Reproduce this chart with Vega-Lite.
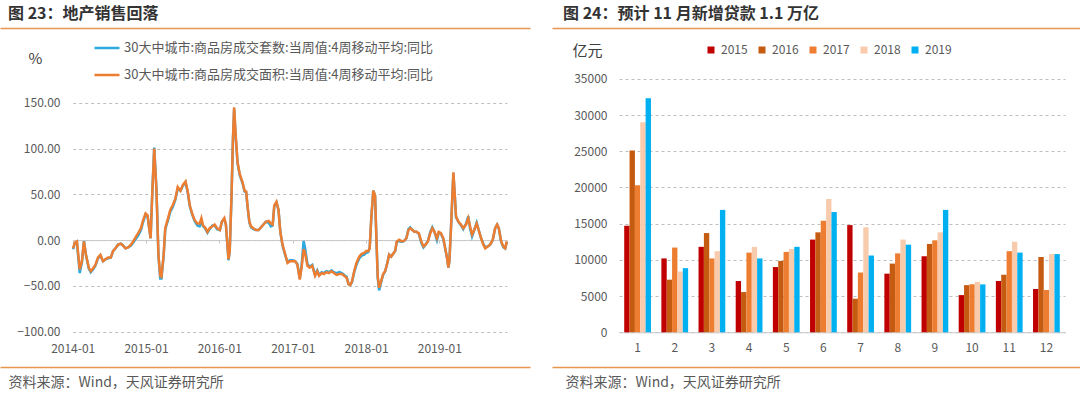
{
  "$schema": "https://vega.github.io/schema/vega-lite/v6.json",
  "padding": {"left": 0, "top": 6, "right": 0, "bottom": 0},
  "spacing": 22,
  "resolve": {"scale": {"color": "independent"}, "legend": {"color": "independent"}},
  "config": {
    "font": "Noto Sans CJK SC",
    "view": {"stroke": null},
    "axis": {"labelFont": "Noto Sans CJK SC", "titleFont": "Noto Sans CJK SC", "labelColor": "#595959", "labelFontSize": 12},
    "legend": {"labelFont": "Noto Sans CJK SC", "labelColor": "#595959"},
    "title": {"font": "Noto Sans CJK SC"}
  },
  "hconcat": [
    {
      "width": 530,
      "height": 339,
      "title": {"text": "图 23：地产销售回落", "anchor": "start", "dx": 8, "fontSize": 16, "fontWeight": "bold", "color": "#333333", "offset": 6},
      "data": {"values": [
        {"d":"2014-01-03","b":-9,"a":-10},{"d":"2014-01-11","b":-3,"a":-4},{"d":"2014-01-22","b":-1.5,"a":-2},
        {"d":"2014-02-05","b":-32,"a":-36},{"d":"2014-02-16","b":-23,"a":-24},{"d":"2014-02-26","b":-1.5,"a":-1},
        {"d":"2014-03-08","b":-16,"a":-16},{"d":"2014-03-22","b":-30,"a":-31},{"d":"2014-04-01","b":-34,"a":-35},
        {"d":"2014-04-12","b":-31,"a":-32},{"d":"2014-04-24","b":-27,"a":-28},{"d":"2014-05-07","b":-19,"a":-20},
        {"d":"2014-05-19","b":-16,"a":-17},{"d":"2014-06-01","b":-23,"a":-23},{"d":"2014-06-13","b":-21,"a":-21},
        {"d":"2014-06-26","b":-19,"a":-20},{"d":"2014-07-10","b":-19,"a":-19},{"d":"2014-07-21","b":-12,"a":-12},
        {"d":"2014-08-02","b":-9,"a":-9},{"d":"2014-08-15","b":-5,"a":-5},{"d":"2014-08-29","b":-4,"a":-4},
        {"d":"2014-09-09","b":-6,"a":-6},{"d":"2014-09-21","b":-9,"a":-9},{"d":"2014-10-04","b":-8,"a":-8},
        {"d":"2014-10-18","b":-5,"a":-6},{"d":"2014-10-29","b":-1.5,"a":-3},{"d":"2014-11-10","b":3,"a":1},
        {"d":"2014-11-23","b":7.5,"a":5},{"d":"2014-12-07","b":13,"a":11},{"d":"2014-12-18","b":22,"a":20},
        {"d":"2014-12-30","b":29,"a":28},{"d":"2015-01-09","b":27,"a":26},{"d":"2015-01-17","b":13,"a":13},
        {"d":"2015-01-24","b":2,"a":2},{"d":"2015-02-01","b":49,"a":50},{"d":"2015-02-11","b":100,"a":101},
        {"d":"2015-02-22","b":55,"a":56},{"d":"2015-03-04","b":-16,"a":-17},{"d":"2015-03-13","b":-39,"a":-42},
        {"d":"2015-03-19","b":-40,"a":-42},{"d":"2015-03-30","b":-16,"a":-17},{"d":"2015-04-07","b":13,"a":12},
        {"d":"2015-04-21","b":24,"a":22},{"d":"2015-05-02","b":33,"a":31},{"d":"2015-05-14","b":38,"a":36},
        {"d":"2015-05-27","b":45,"a":44},{"d":"2015-06-08","b":58,"a":56},{"d":"2015-06-22","b":54,"a":54},
        {"d":"2015-07-03","b":60,"a":59},{"d":"2015-07-17","b":64,"a":63},{"d":"2015-07-28","b":53,"a":52},
        {"d":"2015-08-07","b":38,"a":37},{"d":"2015-08-19","b":29,"a":28},{"d":"2015-08-31","b":22,"a":21},
        {"d":"2015-09-14","b":18,"a":16},{"d":"2015-09-25","b":18,"a":15},{"d":"2015-10-04","b":24,"a":21},
        {"d":"2015-10-12","b":16,"a":15},{"d":"2015-10-22","b":14,"a":13},{"d":"2015-11-03","b":9,"a":8},
        {"d":"2015-11-14","b":13,"a":12},{"d":"2015-11-28","b":15,"a":16},{"d":"2015-12-09","b":17,"a":16},
        {"d":"2015-12-21","b":13,"a":12},{"d":"2016-01-04","b":11,"a":11},{"d":"2016-01-14","b":20,"a":20},
        {"d":"2016-01-26","b":24,"a":23},{"d":"2016-02-03","b":17,"a":17},{"d":"2016-02-09","b":-1,"a":-1},
        {"d":"2016-02-16","b":-21,"a":-22},{"d":"2016-02-22","b":-12,"a":-12},{"d":"2016-03-02","b":49,"a":48},
        {"d":"2016-03-09","b":110,"a":108},{"d":"2016-03-15","b":145,"a":143},{"d":"2016-03-23","b":114,"a":112},
        {"d":"2016-04-01","b":85,"a":84},{"d":"2016-04-12","b":72,"a":71},{"d":"2016-04-26","b":63,"a":62},
        {"d":"2016-05-06","b":54,"a":53},{"d":"2016-05-14","b":53,"a":52},{"d":"2016-05-22","b":35,"a":34},
        {"d":"2016-05-30","b":20,"a":19},{"d":"2016-06-07","b":15,"a":14},{"d":"2016-06-19","b":13,"a":12},
        {"d":"2016-07-02","b":11,"a":11},{"d":"2016-07-15","b":11,"a":11},{"d":"2016-07-27","b":14,"a":14},
        {"d":"2016-08-08","b":17,"a":17},{"d":"2016-08-20","b":20,"a":20},{"d":"2016-09-03","b":21,"a":19},
        {"d":"2016-09-14","b":18,"a":15},{"d":"2016-09-23","b":17,"a":16},{"d":"2016-10-01","b":38,"a":37},
        {"d":"2016-10-12","b":42,"a":41},{"d":"2016-10-22","b":33,"a":33},{"d":"2016-10-31","b":9,"a":9},
        {"d":"2016-11-11","b":-5,"a":-6},{"d":"2016-11-25","b":-16,"a":-17},{"d":"2016-12-06","b":-25,"a":-24},
        {"d":"2016-12-18","b":-23,"a":-22},{"d":"2016-12-30","b":-23,"a":-22},{"d":"2017-01-13","b":-23,"a":-23},
        {"d":"2017-01-24","b":-27,"a":-26},{"d":"2017-02-05","b":-43,"a":-42},{"d":"2017-02-14","b":-30,"a":-28},
        {"d":"2017-02-24","b":-10,"a":-1},{"d":"2017-03-03","b":-14,"a":-8},{"d":"2017-03-15","b":-28,"a":-26},
        {"d":"2017-03-26","b":-30,"a":-29},{"d":"2017-04-08","b":-28,"a":-27},{"d":"2017-04-22","b":-39,"a":-38},
        {"d":"2017-05-03","b":-34,"a":-33},{"d":"2017-05-12","b":-39,"a":-38},{"d":"2017-05-25","b":-36,"a":-35},
        {"d":"2017-06-06","b":-37,"a":-36},{"d":"2017-06-17","b":-35,"a":-34},{"d":"2017-06-30","b":-36,"a":-35},
        {"d":"2017-07-13","b":-34,"a":-33},{"d":"2017-07-25","b":-36,"a":-35},{"d":"2017-08-07","b":-38,"a":-36},
        {"d":"2017-08-21","b":-37,"a":-35},{"d":"2017-09-03","b":-37,"a":-36},{"d":"2017-09-14","b":-39,"a":-38},
        {"d":"2017-09-26","b":-41,"a":-40},{"d":"2017-10-06","b":-48,"a":-48},{"d":"2017-10-14","b":-49,"a":-49},
        {"d":"2017-10-23","b":-45,"a":-46},{"d":"2017-11-03","b":-34,"a":-35},{"d":"2017-11-14","b":-25,"a":-27},
        {"d":"2017-11-28","b":-18,"a":-20},{"d":"2017-12-10","b":-15,"a":-17},{"d":"2017-12-23","b":-14,"a":-16},
        {"d":"2018-01-02","b":-12,"a":-14},{"d":"2018-01-12","b":-12,"a":-13},{"d":"2018-01-19","b":-9,"a":-9},
        {"d":"2018-01-27","b":24,"a":23},{"d":"2018-02-06","b":54,"a":54},{"d":"2018-02-15","b":49,"a":48},
        {"d":"2018-02-21","b":6,"a":5},{"d":"2018-02-28","b":-39,"a":-41},{"d":"2018-03-07","b":-52,"a":-55},
        {"d":"2018-03-17","b":-45,"a":-46},{"d":"2018-03-27","b":-37,"a":-38},{"d":"2018-04-06","b":-34,"a":-34},
        {"d":"2018-04-17","b":-25,"a":-25},{"d":"2018-04-26","b":-16,"a":-16},{"d":"2018-05-06","b":-18,"a":-18},
        {"d":"2018-05-16","b":-15,"a":-15},{"d":"2018-05-26","b":-12,"a":-12},{"d":"2018-06-03","b":-1.5,"a":-2},
        {"d":"2018-06-15","b":0.4,"a":-1},{"d":"2018-06-28","b":-1.4,"a":-2},{"d":"2018-07-10","b":-0.7,"a":-1},
        {"d":"2018-07-21","b":2,"a":2},{"d":"2018-07-31","b":11,"a":12},{"d":"2018-08-09","b":13,"a":14},
        {"d":"2018-08-20","b":11,"a":11},{"d":"2018-08-30","b":9,"a":9},{"d":"2018-09-09","b":9,"a":9},
        {"d":"2018-09-21","b":7.5,"a":7},{"d":"2018-10-03","b":-1.4,"a":-3},{"d":"2018-10-14","b":-7,"a":-8},
        {"d":"2018-10-24","b":-5,"a":-5},{"d":"2018-11-05","b":-1.4,"a":-1},{"d":"2018-11-17","b":7.5,"a":9},
        {"d":"2018-11-27","b":13,"a":14},{"d":"2018-12-08","b":9,"a":9},{"d":"2018-12-20","b":2,"a":0},
        {"d":"2018-12-29","b":9,"a":8},{"d":"2019-01-09","b":7.5,"a":7},{"d":"2019-01-21","b":2,"a":1},
        {"d":"2019-01-31","b":-10,"a":-10},{"d":"2019-02-08","b":-19,"a":-19},{"d":"2019-02-15","b":-30,"a":-30},
        {"d":"2019-02-20","b":-23,"a":-23},{"d":"2019-02-28","b":13,"a":13},{"d":"2019-03-07","b":49,"a":48},
        {"d":"2019-03-12","b":74,"a":73},{"d":"2019-03-19","b":49,"a":48},{"d":"2019-03-25","b":26,"a":25},
        {"d":"2019-04-06","b":20,"a":20},{"d":"2019-04-19","b":17,"a":16},{"d":"2019-04-30","b":13,"a":12},
        {"d":"2019-05-14","b":17,"a":18},{"d":"2019-05-25","b":24,"a":26},{"d":"2019-06-03","b":15,"a":13},
        {"d":"2019-06-13","b":6,"a":4},{"d":"2019-06-24","b":11,"a":11},{"d":"2019-07-06","b":18,"a":19},
        {"d":"2019-07-16","b":11,"a":11},{"d":"2019-07-28","b":2,"a":2},{"d":"2019-08-08","b":-5,"a":-4},
        {"d":"2019-08-18","b":-9,"a":-8},{"d":"2019-08-30","b":-7,"a":-7},{"d":"2019-09-11","b":-5,"a":-5},
        {"d":"2019-09-24","b":0.4,"a":0},{"d":"2019-10-06","b":13,"a":13},{"d":"2019-10-16","b":17,"a":17},
        {"d":"2019-10-24","b":13,"a":13},{"d":"2019-11-05","b":-1.4,"a":-2},{"d":"2019-11-16","b":-7,"a":-8},
        {"d":"2019-11-25","b":-9,"a":-9},{"d":"2019-12-03","b":-1.4,"a":-2}
      ]},
      "layer": [
        {
          "layer": [
            {
              "mark": {"type": "line", "strokeWidth": 2.5},
              "encoding": {
                "x": {"field": "d", "type": "temporal",
                  "scale": {"domain": [{"year": 2014, "month": 1, "date": 1}, {"year": 2019, "month": 12, "date": 4}], "range": [72.7, 507]},
                  "axis": {"orient": "bottom", "offset": -126.9,
                    "values": [{"year": 2014, "month": 1, "date": 1}, {"year": 2015, "month": 1, "date": 1}, {"year": 2016, "month": 1, "date": 1}, {"year": 2017, "month": 1, "date": 1}, {"year": 2018, "month": 1, "date": 1}, {"year": 2019, "month": 1, "date": 1}],
                    "format": "%Y-%m", "domainColor": "#C8C8C8", "domainWidth": 1, "tickColor": "#C8C8C8", "tickSize": 3,
                    "labelPadding": 100, "labelFlush": false, "grid": false, "title": null, "labelFontSize": 12}},
                "y": {"field": "a", "type": "quantitative",
                  "scale": {"domain": [-100, 150], "range": [303.7, 74.7], "nice": false, "zero": false},
                  "axis": {"orient": "left", "offset": -72.7, "values": [-100, -50, 0, 50, 100, 150], "format": ".2f",
                    "domain": false, "ticks": false, "labelPadding": 12.7, "grid": true, "gridColor": "#BFBFBF", "gridDash": [3, 3],
                    "title": "%", "titleAngle": 0, "titleX": -37.7, "titleY": 30, "titleAlign": "center", "titleBaseline": "middle",
                    "titleFontSize": 15, "titleFontWeight": "normal", "titleColor": "#404040"}},
                "color": {"datum": "30大中城市:商品房成交套数:当周值:4周移动平均:同比",
                  "scale": {"domain": ["30大中城市:商品房成交套数:当周值:4周移动平均:同比", "30大中城市:商品房成交面积:当周值:4周移动平均:同比"], "range": ["#2EA8DF", "#ED7D31"]},
                  "legend": {"orient": "none", "legendX": 93, "legendY": 6, "direction": "vertical", "symbolType": "stroke",
                    "symbolSize": 625, "symbolStrokeWidth": 2.5, "labelFontSize": 13, "labelColor": "#595959", "rowPadding": 6,
                    "labelOffset": 3, "labelLimit": 1000, "title": null, "padding": 0}}
              }
            },
            {
              "mark": {"type": "line", "strokeWidth": 2.5},
              "encoding": {
                "x": {"field": "d", "type": "temporal"},
                "y": {"field": "b", "type": "quantitative"},
                "color": {"datum": "30大中城市:商品房成交面积:当周值:4周移动平均:同比"}
              }
            }
          ]
        },
        {
          "data": {"values": [{}]},
          "mark": {"type": "rule", "opacity": 0},
          "encoding": {
            "x": {"datum": 0, "type": "quantitative", "scale": {"domain": [0, 1]},
              "axis": {"orient": "top", "domainColor": "#E8954F", "domainWidth": 1.5, "ticks": false, "labels": false, "grid": false, "title": null}}
          }
        },
        {
          "data": {"values": [{}]},
          "mark": {"type": "rule", "opacity": 0},
          "encoding": {
            "x": {"datum": 0, "type": "quantitative", "scale": {"domain": [0, 1]},
              "axis": {"orient": "bottom", "domainColor": "#E8954F", "domainWidth": 1.5, "ticks": false, "labels": false, "grid": false,
                "title": "资料来源：Wind，天风证券研究所", "titleX": 8, "titleAlign": "left", "titleAnchor": "start", "titlePadding": 8,
                "titleFontSize": 14, "titleFontWeight": "normal", "titleColor": "#595959"}}
          }
        }
      ],
      "resolve": {"scale": {"x": "independent"}}
    },
    {
      "width": 528,
      "height": 339,
      "title": {"text": "图 24：预计 11 月新增贷款 1.1 万亿", "anchor": "start", "dx": 11, "fontSize": 16, "fontWeight": "bold", "color": "#333333", "offset": 6},
      "layer": [
        {
          "data": {"values": [
            {"m":1,"yr":"2015","v":14708},{"m":2,"yr":"2015","v":10200},{"m":3,"yr":"2015","v":11800},{"m":4,"yr":"2015","v":7079},
            {"m":5,"yr":"2015","v":9008},{"m":6,"yr":"2015","v":12800},{"m":7,"yr":"2015","v":14800},{"m":8,"yr":"2015","v":8096},
            {"m":9,"yr":"2015","v":10500},{"m":10,"yr":"2015","v":5136},{"m":11,"yr":"2015","v":7089},{"m":12,"yr":"2015","v":5978},
            {"m":1,"yr":"2016","v":25100},{"m":2,"yr":"2016","v":7266},{"m":3,"yr":"2016","v":13700},{"m":4,"yr":"2016","v":5556},
            {"m":5,"yr":"2016","v":9855},{"m":6,"yr":"2016","v":13800},{"m":7,"yr":"2016","v":4636},{"m":8,"yr":"2016","v":9487},
            {"m":9,"yr":"2016","v":12200},{"m":10,"yr":"2016","v":6513},{"m":11,"yr":"2016","v":7946},{"m":12,"yr":"2016","v":10400},
            {"m":1,"yr":"2017","v":20300},{"m":2,"yr":"2017","v":11700},{"m":3,"yr":"2017","v":10200},{"m":4,"yr":"2017","v":11000},
            {"m":5,"yr":"2017","v":11100},{"m":6,"yr":"2017","v":15400},{"m":7,"yr":"2017","v":8255},{"m":8,"yr":"2017","v":10900},
            {"m":9,"yr":"2017","v":12700},{"m":10,"yr":"2017","v":6632},{"m":11,"yr":"2017","v":11200},{"m":12,"yr":"2017","v":5844},
            {"m":1,"yr":"2018","v":29000},{"m":2,"yr":"2018","v":8393},{"m":3,"yr":"2018","v":11200},{"m":4,"yr":"2018","v":11800},
            {"m":5,"yr":"2018","v":11500},{"m":6,"yr":"2018","v":18400},{"m":7,"yr":"2018","v":14500},{"m":8,"yr":"2018","v":12800},
            {"m":9,"yr":"2018","v":13800},{"m":10,"yr":"2018","v":6970},{"m":11,"yr":"2018","v":12500},{"m":12,"yr":"2018","v":10800},
            {"m":1,"yr":"2019","v":32300},{"m":2,"yr":"2019","v":8858},{"m":3,"yr":"2019","v":16900},{"m":4,"yr":"2019","v":10200},
            {"m":5,"yr":"2019","v":11800},{"m":6,"yr":"2019","v":16600},{"m":7,"yr":"2019","v":10600},{"m":8,"yr":"2019","v":12100},
            {"m":9,"yr":"2019","v":16900},{"m":10,"yr":"2019","v":6613},{"m":11,"yr":"2019","v":11000},{"m":12,"yr":"2019","v":10800}
          ]},
          "mark": {"type": "bar"},
          "encoding": {
            "x": {"field": "m", "type": "ordinal",
              "scale": {"range": [67, 513], "paddingInner": 0.28, "paddingOuter": 0.14},
              "axis": {"orient": "bottom", "offset": -34.7, "labelAngle": 0, "domainColor": "#C8C8C8", "domainWidth": 1, "ticks": false,
                "labelPadding": 10, "title": null, "labelFontSize": 12, "grid": false}},
            "xOffset": {"field": "yr", "type": "nominal", "scale": {"paddingInner": 0, "paddingOuter": 0}},
            "y": {"field": "v", "type": "quantitative",
              "scale": {"domain": [0, 35000], "range": [304.3, 50.8], "nice": false},
              "axis": {"orient": "left", "offset": -67, "values": [0, 5000, 10000, 15000, 20000, 25000, 30000, 35000], "format": "d",
                "domain": false, "ticks": false, "labelPadding": 12, "grid": true, "gridColor": "#BFBFBF", "gridDash": [3, 3],
                "title": "亿元", "titleAngle": 0, "titleX": -32, "titleY": 22, "titleAlign": "center", "titleBaseline": "middle",
                "titleFontSize": 15, "titleFontWeight": "normal", "titleColor": "#404040"}},
            "color": {"field": "yr", "type": "nominal",
              "scale": {"domain": ["2015", "2016", "2017", "2018", "2019"], "range": ["#C00000", "#C55A11", "#ED7D31", "#F8CBAD", "#00B0F0"]},
              "legend": {"orient": "none", "legendX": 153, "legendY": 16, "direction": "horizontal", "symbolType": "square",
                "symbolSize": 49, "symbolStrokeWidth": 0, "labelFontSize": 12, "labelColor": "#595959", "columnPadding": 8,
                "title": null, "padding": 0}}
          }
        },
        {
          "data": {"values": [{}]},
          "mark": {"type": "rule", "opacity": 0},
          "encoding": {
            "x": {"datum": 0, "type": "quantitative", "scale": {"domain": [0, 1]},
              "axis": {"orient": "top", "domainColor": "#E8954F", "domainWidth": 1.5, "ticks": false, "labels": false, "grid": false, "title": null}}
          }
        },
        {
          "data": {"values": [{}]},
          "mark": {"type": "rule", "opacity": 0},
          "encoding": {
            "x": {"datum": 0, "type": "quantitative", "scale": {"domain": [0, 1]},
              "axis": {"orient": "bottom", "domainColor": "#E8954F", "domainWidth": 1.5, "ticks": false, "labels": false, "grid": false,
                "title": "资料来源：Wind，天风证券研究所", "titleX": 13, "titleAlign": "left", "titleAnchor": "start", "titlePadding": 8,
                "titleFontSize": 14, "titleFontWeight": "normal", "titleColor": "#595959"}}
          }
        }
      ],
      "resolve": {"scale": {"x": "independent"}}
    }
  ]
}
